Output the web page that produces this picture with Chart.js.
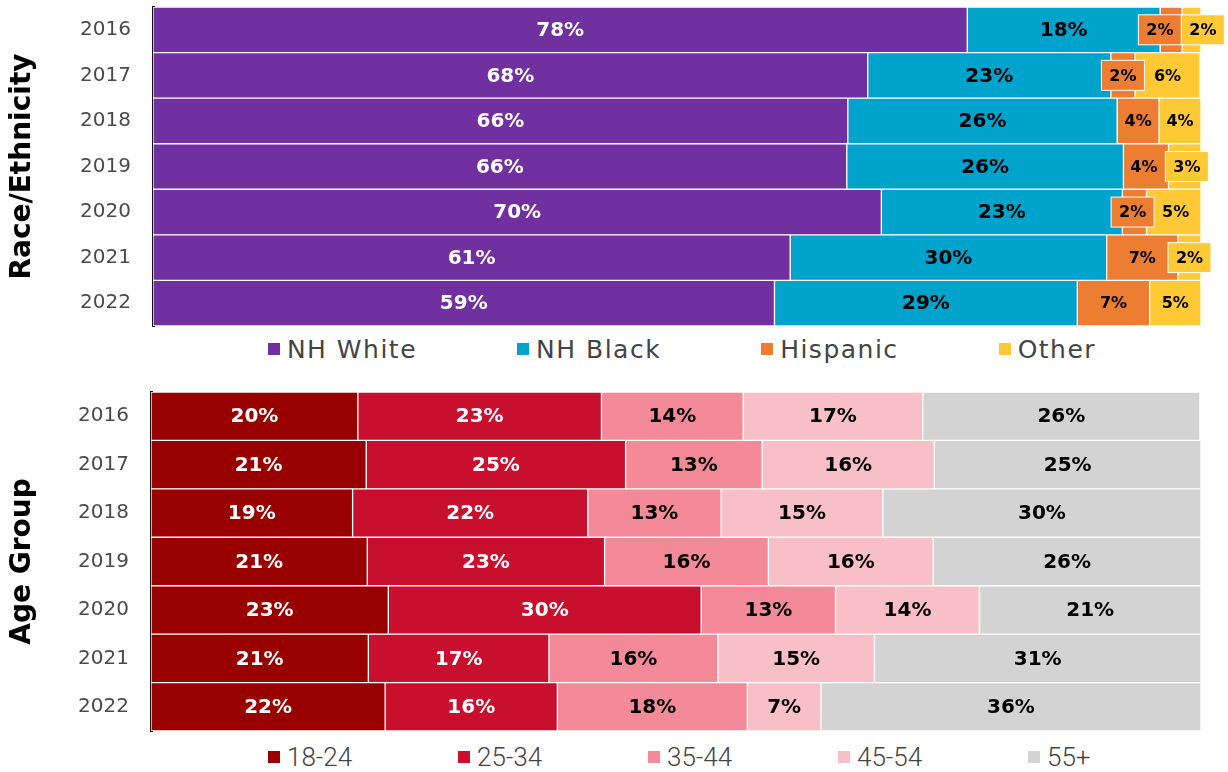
<!DOCTYPE html>
<html>
<head>
<meta charset="utf-8">
<script src="https://cdn.jsdelivr.net/npm/chart.js@4"></script>
<style>
  body { margin: 0; background: #fff; width: 1228px; height: 772px; overflow: hidden; position: relative; }
  .box { position: absolute; left: 0; width: 1228px; }
  .legend { position: absolute; display: flex; align-items: center; color: #444; }
  .legend span.sq { display: inline-block; width: 12px; height: 12px; margin-right: 7px; }
  .legend .item { display: flex; align-items: center; white-space: nowrap; }
</style>
</head>
<body>
<div class="box" style="top:0;height:330px"><canvas id="race"></canvas></div>
<div class="legend" id="raceLegend" style="left:132px;width:1100px;top:334px;height:30px;justify-content:center;gap:100px;font:25px 'DejaVu Sans';letter-spacing:1.5px"></div>
<div class="box" style="top:385px;height:350px"><canvas id="age"></canvas></div>
<div class="legend" id="ageLegend" style="left:268px;top:742px;height:30px;font:300 26px Roboto"></div>
<script>
const years = ['2016', '2017', '2018', '2019', '2020', '2021', '2022'];

// Race / ethnicity shares (%)
const nhWhite = [77.7, 68.2, 66.3, 66.2, 69.5, 60.8, 59.3];
const nhBlack = [18.4, 23.2, 25.7, 26.4, 23.0, 30.2, 28.9];
const hispanic = [2.1, 2.3, 4.0, 4.3, 2.3, 6.8, 6.9];
const other = [1.8, 6.2, 4.0, 3.1, 5.2, 2.2, 4.9];

// Age group shares (%)
const age1824 = [19.7, 20.5, 19.2, 20.6, 22.6, 20.7, 22.3];
const age2534 = [23.2, 24.7, 22.4, 22.6, 29.8, 17.2, 16.4];
const age3544 = [13.5, 13.0, 12.7, 15.6, 12.8, 16.1, 18.1];
const age4554 = [17.1, 16.4, 15.4, 15.7, 13.7, 14.9, 7.0];
const age55 = [26.4, 25.4, 30.3, 25.5, 21.1, 31.1, 36.2];

// Percent labels inside the segments, boxed when the segment is too thin
const barLabels = {
  id: 'barLabels',
  afterDatasetsDraw(chart) {
    const ctx = chart.ctx;
    ctx.save();
    ctx.textAlign = 'center';
    ctx.textBaseline = 'middle';
    const rows = years.map(() => []);
    chart.data.datasets.forEach((ds, di) => {
      const font = 'bold ' + ds.labelSize + 'px "DejaVu Sans"';
      ctx.font = font;
      chart.getDatasetMeta(di).data.forEach((bar, i) => {
        const p = bar.getProps(['x', 'base', 'y', 'height'], true);
        const txt = Math.round(ds.data[i]) + '%';
        const tw = ctx.measureText(txt).width;
        const segW = Math.abs(p.x - p.base);
        rows[i].push({
          txt, font, cx: (p.x + p.base) / 2, y: p.y, w: Math.max(tw + 12, 43),
          boxed: segW < tw + 6, fill: ds.backgroundColor, color: ds.labelColor
        });
      });
    });
    rows.forEach(row => {
      // push apart overlapping labels
      for (let k = 0; k < 4; k++) {
        for (let j = 1; j < row.length; j++) {
          const a = row[j - 1], b = row[j];
          if (!a.boxed && !b.boxed) continue;
          const ov = (a.cx + a.w / 2) - (b.cx - b.w / 2);
          if (ov > 0) { a.cx -= ov / 2; b.cx += ov / 2; }
        }
      }
      row.forEach(l => {
        if (l.boxed) {
          ctx.fillStyle = l.fill;
          ctx.strokeStyle = '#fff';
          ctx.lineWidth = 1;
          ctx.fillRect(l.cx - l.w / 2, l.y - 15, l.w, 30);
          ctx.strokeRect(l.cx - l.w / 2, l.y - 15, l.w, 30);
        }
        ctx.font = l.font;
        ctx.fillStyle = l.color;
        ctx.fillText(l.txt, l.cx, l.y + 1);
      });
    });
    ctx.restore();
  }
};

function makeChart(id, datasets, title, axisWidth) {
  return new Chart(document.getElementById(id), {
    type: 'bar',
    data: {
      labels: years,
      datasets: datasets.map(d => ({
        label: d.label, data: d.data, backgroundColor: d.color,
        labelColor: d.text, labelSize: d.size || 20,
        borderColor: '#fff', borderWidth: 1, borderSkipped: false,
        categoryPercentage: 1, barPercentage: 1
      }))
    },
    options: {
      indexAxis: 'y',
      responsive: true,
      maintainAspectRatio: false,
      animation: false,
      layout: { padding: { top: 7, right: 27, bottom: 4 } },
      plugins: { legend: { display: false }, tooltip: { enabled: false } },
      scales: {
        x: { stacked: true, min: 0, max: 100, display: false },
        y: {
          stacked: true,
          z: 1,
          grid: { display: false, drawTicks: false },
          border: { display: true, color: '#111', width: 3 },
          ticks: { color: '#4a4a4a', padding: 22, font: { family: 'DejaVu Sans', size: 20 } },
          title: { display: true, text: title, color: '#000', padding: { top: 6, bottom: 0 },
                   font: { family: 'DejaVu Sans', size: 28, weight: 'bold' } },
          afterFit(scale) {
            scale.width = axisWidth;
            scale.paddingTop = 0;
            scale.paddingBottom = 0;
          }
        }
      }
    },
    plugins: [barLabels]
  });
}

function htmlLegend(chart, elId, itemWidth) {
  const el = document.getElementById(elId);
  chart.options.plugins.legend.labels.generateLabels(chart).forEach(item => {
    const div = document.createElement('div');
    div.className = 'item';
    if (itemWidth) div.style.width = itemWidth + 'px';
    const sq = document.createElement('span');
    sq.className = 'sq';
    sq.style.background = item.fillStyle;
    div.appendChild(sq);
    div.appendChild(document.createTextNode(item.text));
    el.appendChild(div);
  });
}

const raceChart = makeChart('race', [
  { label: 'NH White', data: nhWhite, color: '#7030A0', text: '#fff' },
  { label: 'NH Black', data: nhBlack, color: '#00A3CC', text: '#000' },
  { label: 'Hispanic', data: hispanic, color: '#ED7D31', text: '#000', size: 16 },
  { label: 'Other', data: other, color: '#FFC936', text: '#000', size: 16 }
], 'Race/Ethnicity', 153);

const ageChart = makeChart('age', [
  { label: '18-24', data: age1824, color: '#990000', text: '#fff' },
  { label: '25-34', data: age2534, color: '#C8102E', text: '#fff' },
  { label: '35-44', data: age3544, color: '#F48A97', text: '#000' },
  { label: '45-54', data: age4554, color: '#F8BFC6', text: '#000' },
  { label: '55+', data: age55, color: '#D3D3D3', text: '#000' }
], 'Age Group', 151);

htmlLegend(raceChart, 'raceLegend');
htmlLegend(ageChart, 'ageLegend', 190);
</script>
</body>
</html>
